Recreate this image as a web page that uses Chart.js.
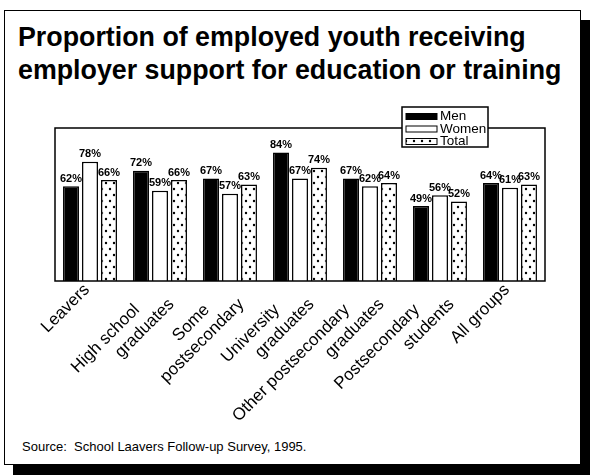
<!DOCTYPE html>
<html>
<head>
<meta charset="utf-8">
<script src="https://cdn.jsdelivr.net/npm/chart.js@4"></script>
<style>
  html, body { margin: 0; padding: 0; background: #fff; }
  body { width: 591px; height: 476px; position: relative; overflow: hidden; font-family: "Liberation Sans", Arial, sans-serif; color: #000; }
  #frame { position: absolute; left: 4px; top: 10px; width: 577px; height: 455px; box-sizing: border-box; border: 1.5px solid #000; box-shadow: 9px 10px 0 #000; background: #fff; }
  #title { position: absolute; left: 18px; top: 21px; font-weight: bold; font-size: 26.8px; line-height: 33px; white-space: nowrap; }
  #source { position: absolute; left: 22px; top: 439px; font-size: 13px; white-space: nowrap; }
  canvas { position: absolute; left: 0; top: 0; }
</style>
</head>
<body>
<div id="frame"></div>
<div id="title">Proportion of employed youth receiving<br>employer support for education or training</div>
<div id="source">Source:&nbsp; School Laavers Follow-up Survey, 1995.</div>
<canvas id="chart" width="591" height="476"></canvas>
<script>
// Groups (first line padded so the second line sits further along)
const groups = [
    ['Leavers'],
    ['High school      ', 'graduates'],
    ['Some      ', 'postsecondary'],
    ['University      ', 'graduates'],
    ['Other postsecondary      ', 'graduates'],
    ['Postsecondary      ', 'students'],
    ['All groups']
];
const menPct = [62, 72, 67, 84, 67, 49, 64];
const womenPct = [78, 59, 57, 67, 62, 56, 61];
const totalPct = [66, 66, 63, 74, 64, 52, 63];

const FONT = '"Liberation Sans", Arial, sans-serif';

// dotted fill for the Total bars
function dotPattern() {
    const c = document.createElement('canvas');
    c.width = 8; c.height = 12;
    const g = c.getContext('2d');
    g.fillStyle = '#fff';
    g.fillRect(0, 0, 8, 12);
    g.fillStyle = '#000';
    g.beginPath(); g.arc(2, 3, 1.2, 0, Math.PI * 2); g.fill();
    g.beginPath(); g.arc(6, 9, 1.2, 0, Math.PI * 2); g.fill();
    return g.createPattern(c, 'repeat');
}
const dots = dotPattern();

// frame around the plot, value labels above bars, boxed legend
const decorations = {
    id: 'decorations',
    afterDatasetsDraw(chart) {
        const { ctx, chartArea: a } = chart;
        ctx.save();
        ctx.strokeStyle = '#000';
        ctx.lineWidth = 1.5;
        ctx.strokeRect(a.left, a.top, a.right - a.left, a.bottom - a.top);

        ctx.font = 'bold 11px "Liberation Sans Narrow", ' + FONT;
        ctx.fillStyle = '#000';
        ctx.textAlign = 'center';
        ctx.textBaseline = 'bottom';
        chart.data.datasets.forEach((ds, i) => {
            chart.getDatasetMeta(i).data.forEach((bar, j) => {
                ctx.fillText(ds.data[j] + '%', bar.x, bar.y - 2);
            });
        });

        // legend
        const x0 = a.right - 143, y0 = a.top - 21;
        ctx.fillStyle = '#fff';
        ctx.fillRect(x0, y0, 86, 40);
        ctx.strokeRect(x0, y0, 86, 40);
        ctx.font = '13.5px ' + FONT;
        ctx.textAlign = 'left';
        ctx.textBaseline = 'middle';
        chart.data.datasets.forEach((ds, i) => {
            const y = y0 + 9.5 + i * 12.5;
            ctx.fillStyle = ds.backgroundColor;
            ctx.fillRect(x0 + 4, y - 3, 31, 6);
            ctx.lineWidth = 1;
            ctx.strokeRect(x0 + 4, y - 3, 31, 6);
            ctx.fillStyle = '#000';
            ctx.fillText(ds.label, x0 + 38, y);
        });
        ctx.restore();
    }
};

new Chart(document.getElementById('chart'), {
    type: 'bar',
    data: {
        labels: groups,
        datasets: [
            { label: 'Men', data: menPct, backgroundColor: '#000', borderColor: '#000', borderWidth: 1.5 },
            { label: 'Women', data: womenPct, backgroundColor: '#fff', borderColor: '#000', borderWidth: 1.5 },
            { label: 'Total', data: totalPct, backgroundColor: dots, borderColor: '#000', borderWidth: 1.5 }
        ]
    },
    options: {
        responsive: false,
        animation: false,
        layout: { padding: { left: 55, right: 46, top: 128, bottom: 45 } },
        datasets: { bar: { categoryPercentage: 0.814, barPercentage: 0.84 } },
        plugins: { legend: { display: false }, tooltip: { enabled: false } },
        scales: {
            x: {
                grid: { display: false },
                border: { display: false },
                ticks: {
                    color: '#000',
                    font: { family: FONT, size: 17 },
                    minRotation: 45,
                    maxRotation: 45,
                    autoSkip: false,
                    padding: -9,
                    labelOffset: -3
                },
                afterFit(scale) { scale.height = 150; }
            },
            y: { display: false, min: 0, max: 100 }
        }
    },
    plugins: [decorations]
});
</script>
</body>
</html>
